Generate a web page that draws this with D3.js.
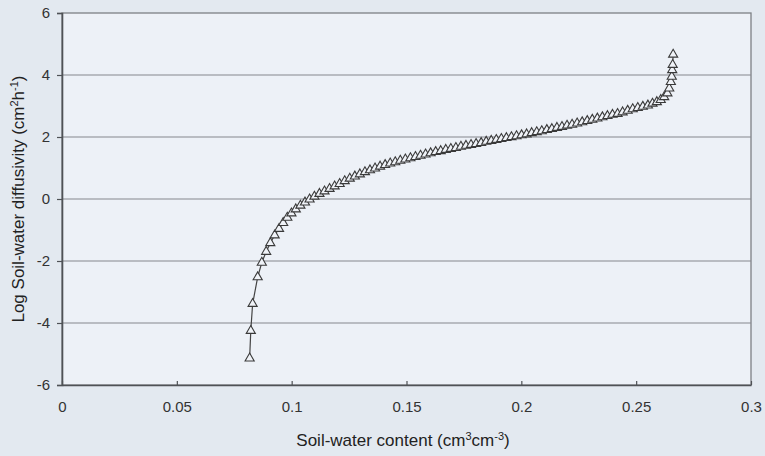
<!DOCTYPE html>
<html>
<head>
<meta charset="utf-8">
<script src="https://cdn.jsdelivr.net/npm/d3@7"></script>
<style>
  html, body { margin: 0; padding: 0; background: #e3e9f0; }
  svg { display: block; font-family: "Liberation Sans", Arial, sans-serif; }
</style>
</head>
<body>
<div id="chart"></div>
<script>
// soil-water content (cm3 cm-3)
const theta = [
  0.0817, 0.0822, 0.0830, 0.0852, 0.0870, 0.0889, 0.0907, 0.0926, 0.0945, 0.0963,
  0.0981, 0.0999, 0.1018, 0.1038, 0.1058, 0.1078, 0.1099, 0.1121, 0.1143, 0.1165,
  0.1187, 0.1209, 0.1231, 0.1253, 0.1275, 0.1297, 0.1319, 0.1341, 0.1363, 0.1385,
  0.1407, 0.1429, 0.1451, 0.1473, 0.1495, 0.1517, 0.1539, 0.1561, 0.1583, 0.1605,
  0.1627, 0.1649, 0.1671, 0.1693, 0.1715, 0.1737, 0.1759, 0.1781, 0.1803, 0.1825,
  0.1847, 0.1869, 0.1891, 0.1913, 0.1935, 0.1957, 0.1979, 0.2001, 0.2023, 0.2045,
  0.2067, 0.2089, 0.2111, 0.2133, 0.2155, 0.2177, 0.2199, 0.2221, 0.2243, 0.2265,
  0.2287, 0.2309, 0.2331, 0.2353, 0.2375, 0.2397, 0.2419, 0.2441, 0.2463, 0.2485,
  0.2507, 0.2529, 0.2551, 0.2571, 0.2590, 0.2607, 0.2622, 0.2636, 0.2644, 0.2651,
  0.2655, 0.2657, 0.2659, 0.2661
];
// log10 diffusivity (cm2 h-1)
const logD = [
  -5.14, -4.25, -3.38, -2.52, -2.05, -1.70, -1.42, -1.17, -0.96, -0.77,
  -0.60, -0.46, -0.33, -0.21, -0.11, -0.01, 0.08, 0.17, 0.25, 0.33,
  0.41, 0.49, 0.58, 0.66, 0.73, 0.80, 0.87, 0.93, 0.99, 1.05,
  1.10, 1.15, 1.19, 1.24, 1.28, 1.32, 1.36, 1.40, 1.44, 1.48,
  1.52, 1.55, 1.59, 1.62, 1.65, 1.69, 1.72, 1.75, 1.78, 1.81,
  1.85, 1.88, 1.91, 1.94, 1.97, 2.00, 2.03, 2.06, 2.09, 2.13,
  2.16, 2.19, 2.23, 2.26, 2.30, 2.33, 2.37, 2.40, 2.44, 2.48,
  2.52, 2.56, 2.60, 2.64, 2.68, 2.72, 2.75, 2.80, 2.85, 2.90,
  2.94, 2.98, 3.02, 3.08, 3.13, 3.20, 3.29, 3.41, 3.57, 3.78,
  3.95, 4.16, 4.33, 4.66
];
const xTicks = [0, 0.05, 0.1, 0.15, 0.2, 0.25, 0.3];
const yTicks = [-6, -4, -2, 0, 2, 4, 6];

const width = 765;
const height = 456;
const margin = {top: 13, right: 14, bottom: 71, left: 62};

const data = theta.map((t, i)=> ({x: t, y: logD[i]}));

const svg = d3.select('#chart')
  .append('svg')
  .attr('width', width)
  .attr('height', height);

const x = d3.scaleLinear()
  .domain([0, 0.3])
  .range([margin.left, width - margin.right]);
const y = d3.scaleLinear()
  .domain([-6, 6])
  .range([height - margin.bottom, margin.top]);

// plot area
svg.append('rect')
  .attr('x', x(0))
  .attr('y', y(6))
  .attr('width', x(0.3) - x(0))
  .attr('height', y(-6) - y(6))
  .attr('fill', '#edf1f7')
  .attr('stroke', '#7d8085')
  .attr('stroke-width', 1.3);

// horizontal gridlines
svg.append('g')
  .selectAll('line')
  .data(yTicks.filter((d)=> d !== -6 && d !== 6))
  .enter()
  .append('line')
  .attr('x1', x(0))
  .attr('x2', x(0.3))
  .attr('y1', (d)=> y(d))
  .attr('y2', (d)=> y(d))
  .attr('stroke', '#85888d')
  .attr('stroke-width', 1.1);

// axes
const yAxis = svg.append('g')
  .attr('transform', `translate(${x(0)},0)`)
  .call(d3.axisLeft(y).tickValues(yTicks).tickSize(5).tickFormat((d)=> String(d)));
const xAxis = svg.append('g')
  .attr('transform', `translate(0,${y(-6)})`)
  .call(d3.axisBottom(x).tickValues(xTicks).tickSizeInner(-4).tickSizeOuter(0)
    .tickFormat((d)=> String(d)));

[xAxis, yAxis].forEach((g)=> {
  g.select('.domain').attr('stroke', '#4f5256').attr('stroke-width', 1.6);
  g.selectAll('.tick line').attr('stroke', '#4f5256').attr('stroke-width', 1.2);
  g.selectAll('.tick text')
    .attr('fill', '#333')
    .style('font-size', '15px');
});
yAxis.selectAll('.tick text').attr('x', -12);
xAxis.selectAll('.tick text').attr('y', 16);

// curve
const line = d3.line()
  .x((d)=> x(d.x))
  .y((d)=> y(d.y));

svg.append('path')
  .datum(data)
  .attr('fill', 'none')
  .attr('stroke', '#444')
  .attr('stroke-width', 1.2)
  .attr('d', line);

const tri = d3.symbol().type(d3.symbolTriangle).size(36);
svg.append('g')
  .selectAll('path')
  .data(data)
  .enter()
  .append('path')
  .attr('transform', (d)=> `translate(${x(d.x)},${y(d.y)})`)
  .attr('d', tri)
  .attr('fill', '#f0f3f8')
  .attr('stroke', '#3a3a3a')
  .attr('stroke-width', 1.1);

// axis titles
const xTitle = svg.append('text')
  .attr('x', 403)
  .attr('y', 446)
  .attr('text-anchor', 'middle')
  .attr('fill', '#222')
  .style('font-size', '17px');
xTitle.append('tspan').text('Soil-water content (cm');
xTitle.append('tspan').attr('dy', -6).style('font-size', '11px').text('3');
xTitle.append('tspan').attr('dy', 6).text('cm');
xTitle.append('tspan').attr('dy', -6).style('font-size', '11px').text('-3');
xTitle.append('tspan').attr('dy', 6).text(')');

const yTitle = svg.append('text')
  .attr('transform', `translate(24,${(y(6) + y(-6)) / 2}) rotate(-90)`)
  .attr('text-anchor', 'middle')
  .attr('fill', '#222')
  .style('font-size', '17px');
yTitle.append('tspan').text('Log Soil-water diffusivity (cm');
yTitle.append('tspan').attr('dy', -6).style('font-size', '11px').text('2');
yTitle.append('tspan').attr('dy', 6).text('h');
yTitle.append('tspan').attr('dy', -6).style('font-size', '11px').text('-1');
yTitle.append('tspan').attr('dy', 6).text(')');
</script>
</body>
</html>
